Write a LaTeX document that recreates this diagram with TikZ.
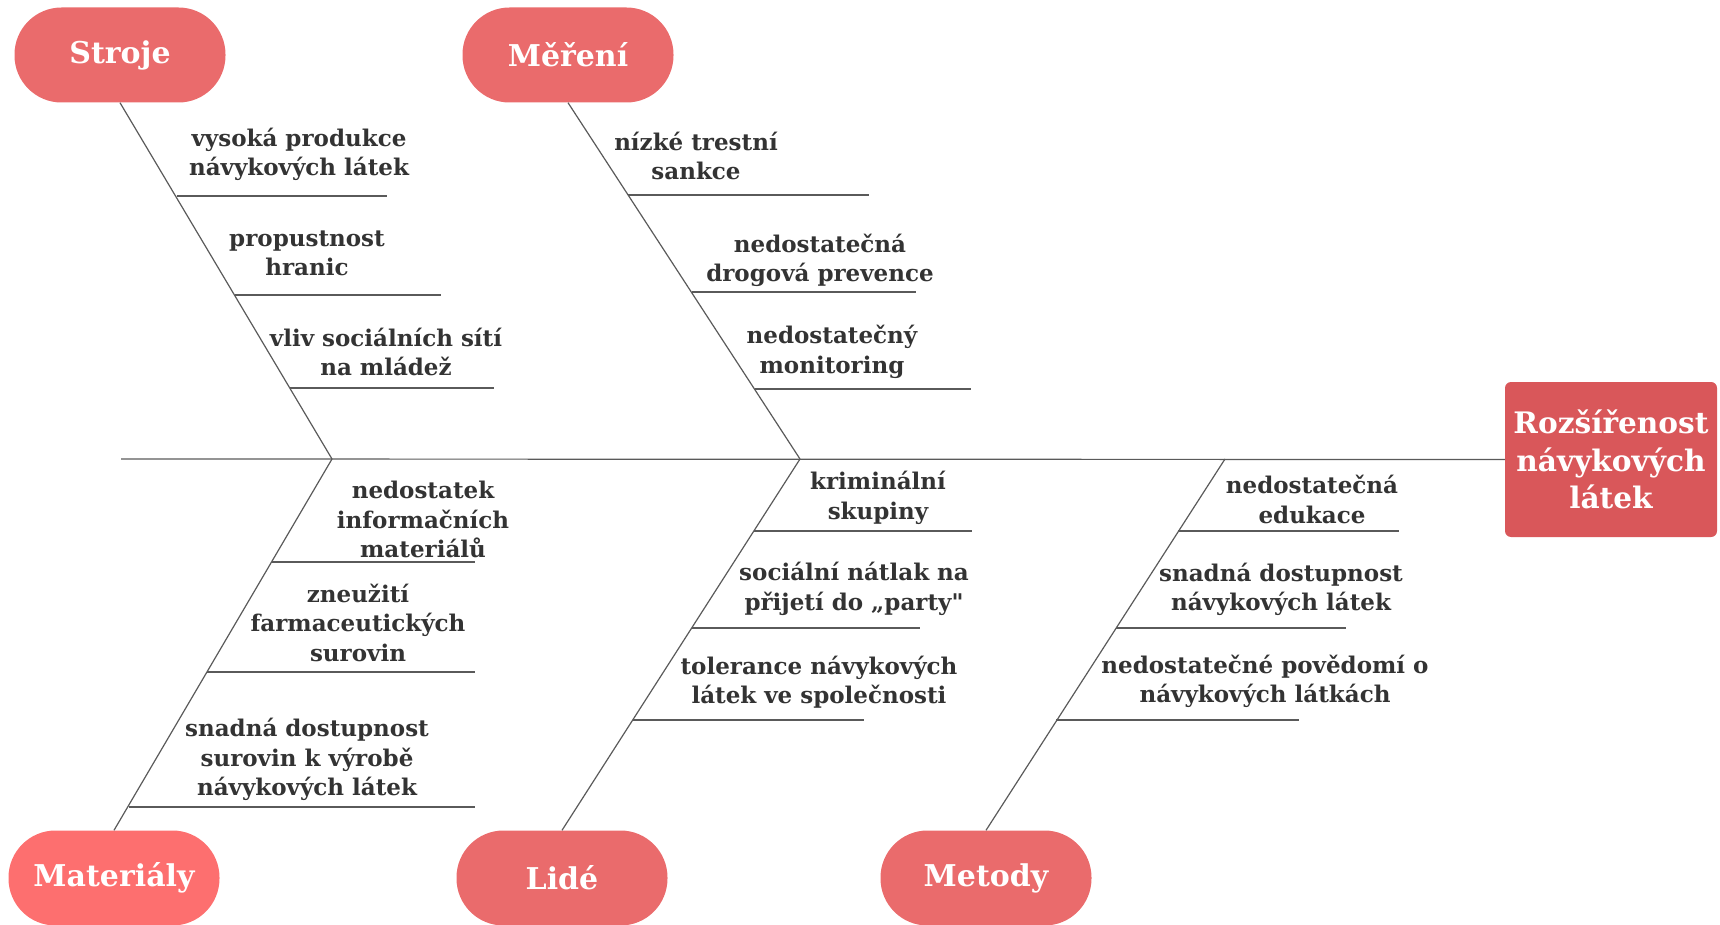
\documentclass[tikz,border=0pt]{standalone}
\usepackage{fontspec}
\setmainfont{DejaVu Serif}
\newfontfamily\plainq{DejaVu Serif}[Ligatures=ResetAll]
\usetikzlibrary{calc}
\definecolor{pill}{HTML}{EA6B6C}
\definecolor{pillb}{HTML}{FD6F6F}
\definecolor{headc}{HTML}{D9575A}
\definecolor{txt}{HTML}{333333}
\definecolor{ln}{HTML}{5A5A5A}
\tikzset{
  cat/.style={rectangle, rounded corners=47pt, fill=pill, text=white, minimum width=211pt, minimum height=95pt, inner sep=0pt, font=\bfseries\fontsize{30}{36}\selectfont},
  headbox/.style={rectangle, rounded corners=6pt, fill=headc, text=white, minimum width=212pt, minimum height=155pt, inner sep=0pt, align=center, font=\bfseries\fontsize{29.6}{37.5}\selectfont},
  cause/.style={text=txt, align=center, inner sep=0pt, font=\bfseries\fontsize{23}{29.5}\selectfont},
  bone/.style={draw=ln, line width=1.2pt},
  sub/.style={draw=ln, line width=1.2pt}
}
\begin{document}
\begin{tikzpicture}[x=1pt,y=-1pt]
\useasboundingbox (0,0) rectangle (1720,925);
% categories
\node[cat] (stroje) at (120,55) {Stroje};
\node[cat] (mereni) at (568,55) {Měření};
\node[cat, fill=pillb] (mat) at (114,878) {Materiály};
\node[cat] (lide) at (562,878) {Lidé};
\node[cat] (metody) at (986,878) {Metody};
\node[headbox] (head) at (1611,459.5) {Rozšířenost\\návykových\\látek};
% spine
\coordinate (sp0) at (121,459);
\coordinate (j1) at (332,459);
\coordinate (j2) at (800,459);
\coordinate (j3) at (1225,459);
\draw[bone] (sp0) -- (head.west);
% bones
\draw[bone] (stroje.south) -- (j1);
\draw[bone] (mereni.south) -- (j2);
\draw[bone] (j1) -- (mat.north);
\draw[bone] (j2) -- (lide.north);
\draw[bone] (j3) -- (metody.north);
% sub-lines Stroje
\coordinate (s1a) at (176.6,196); \coordinate (s1b) at (387,196);
\coordinate (s2a) at (235.1,295); \coordinate (s2b) at (441,295);
\coordinate (s3a) at (290.0,388); \coordinate (s3b) at (494,388);
\draw[sub] (s1a) -- (s1b); \draw[sub] (s2a) -- (s2b); \draw[sub] (s3a) -- (s3b);
\node[cause] (ts1) at (299,154.5) {vysoká produkce\\návykových látek};
\node[cause] (ts2) at (307,253.5) {propustnost\\hranic};
\node[cause] (ts3) at (386,352) {vliv sociálních sítí\\na mládež};
% Měření
\coordinate (m1a) at (628.4,195); \coordinate (m1b) at (869,195);
\coordinate (m2a) at (691.5,292); \coordinate (m2b) at (916,292);
\coordinate (m3a) at (754.5,389); \coordinate (m3b) at (971,389);
\draw[sub] (m1a) -- (m1b); \draw[sub] (m2a) -- (m2b); \draw[sub] (m3a) -- (m3b);
\node[cause] (tm1) at (696,156) {nízké trestní\\sankce};
\node[cause] (tm2) at (820,260.5) {nedostatečná\\drogová prevence};
\node[cause] (tm3) at (832,352) {nedostatečný\\monitoring};
% Materiály
\coordinate (a1a) at (271.8,562); \coordinate (a1b) at (475,562);
\coordinate (a2a) at (207.4,672); \coordinate (a2b) at (475,672);
\coordinate (a3a) at (128.5,807); \coordinate (a3b) at (475,807);
\draw[sub] (a1a) -- (a1b); \draw[sub] (a2a) -- (a2b); \draw[sub] (a3a) -- (a3b);
\node[cause] (ta1) at (423,519.5) {nedostatek\\informačních\\materiálů};
\node[cause] (ta2) at (358,622.5) {zneužití\\farmaceutických\\surovin};
\node[cause] (ta3) at (307,759.5) {snadná dostupnost\\surovin k výrobě\\návykových látek};
% Lidé
\coordinate (l1a) at (754,531); \coordinate (l1b) at (972,531);
\coordinate (l2a) at (692,628); \coordinate (l2b) at (920,628);
\coordinate (l3a) at (633.3,720); \coordinate (l3b) at (864,720);
\draw[sub] (l1a) -- (l1b); \draw[sub] (l2a) -- (l2b); \draw[sub] (l3a) -- (l3b);
\node[cause] (tl1) at (878,498) {kriminální\\skupiny};
\node[cause] (tl2) at (854,589) {sociální nátlak na\\přijetí do „party{\plainq"}};
\node[cause] (tl3) at (819,682) {tolerance návykových\\látek ve společnosti};
% Metody
\coordinate (e1a) at (1178.4,531); \coordinate (e1b) at (1399,531);
\coordinate (e2a) at (1115.7,628); \coordinate (e2b) at (1346,628);
\coordinate (e3a) at (1056.2,720); \coordinate (e3b) at (1299,720);
\draw[sub] (e1a) -- (e1b); \draw[sub] (e2a) -- (e2b); \draw[sub] (e3a) -- (e3b);
\node[cause] (te1) at (1312,499.5) {nedostatečná\\edukace};
\node[cause] (te2) at (1281,589.5) {snadná dostupnost\\návykových látek};
\node[cause] (te3) at (1265,681.5) {nedostatečné povědomí o\\návykových látkách};
\end{tikzpicture}
\end{document}
